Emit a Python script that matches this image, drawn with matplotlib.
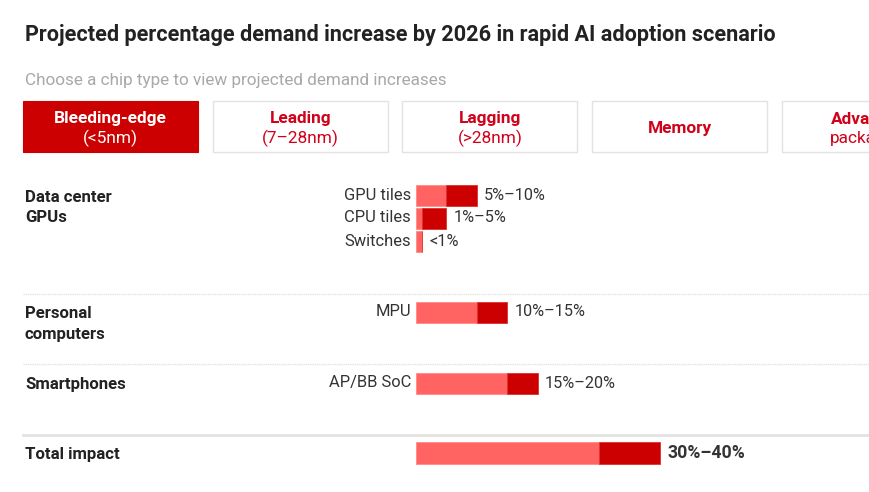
import matplotlib
matplotlib.use("Agg")
import matplotlib.pyplot as plt
from matplotlib.patches import Rectangle

# ---------------- data ----------------
title = "Projected percentage demand increase by 2026 in rapid AI adoption scenario"
subtitle = "Choose a chip type to view projected demand increases"
buttons = [("Bleeding-edge", "(<5nm)"), ("Leading", "(7–28nm)"), ("Lagging", "(>28nm)"),
           ("Memory", ""), ("Advanced", "packaging")]
active_button = 0

groups = ["Data center\nGPUs", "Personal\ncomputers", "Smartphones", "Total impact"]
items = ["GPU tiles", "CPU tiles", "Switches", "MPU", "AP/BB SoC", ""]
item_group = [0, 0, 0, 1, 2, 3]
low = [5, 1, 1, 10, 15, 30]      # lower bound of range (%)
high = [10, 5, 1, 15, 20, 40]    # upper bound of range (%)
labels = ["5%–10%", "1%–5%", "<1%", "10%–15%", "15%–20%", "30%–40%"]

LIGHT = "#FF6462"
DARK = "#CC0000"
BTN_RED = "#D0021B"

FONT = ["Roboto", "DejaVu Sans"]
plt.rcParams["font.family"] = FONT

W, H = 870, 492
fig = plt.figure(figsize=(W / 100, H / 100), dpi=100)
fig.patch.set_facecolor("white")

# overlay axes in pixel coordinates
ax0 = fig.add_axes([0, 0, 1, 1])
ax0.set_xlim(0, W)
ax0.set_ylim(H, 0)
ax0.axis("off")

ax0.text(25, 35, title, fontsize=15.6, fontweight="bold", color="#222222",
         va="center", ha="left")
ax0.text(25, 81, subtitle, fontsize=12.3, color="#A8A8A8", va="center", ha="left")

# buttons
bx0, bw, gap, by0, bh = 23, 175, 14.75, 101, 51
for i, (l1, l2) in enumerate(buttons):
    x = bx0 + i * (bw + gap)
    if i == active_button:
        ax0.add_patch(Rectangle((x, by0), bw, bh, facecolor=DARK, edgecolor=DARK, lw=0.8))
        c = "white"
    else:
        ax0.add_patch(Rectangle((x, by0), bw, bh, facecolor="white", edgecolor="#E2E2E2", lw=1.0))
        c = BTN_RED
    cx = x + bw / 2
    if l2:
        ax0.text(cx, by0 + 18, l1, fontsize=12.4, fontweight="bold", color=c, ha="center", va="center")
        ax0.text(cx, by0 + 37, l2, fontsize=12.4, color=c, ha="center", va="center")
    else:
        ax0.text(cx, by0 + bh / 2 + 2, l1, fontsize=12.4, fontweight="bold", color=c, ha="center", va="center")

# group labels
group_y = [207.5, 324, 384, 454]
for g, gy in zip(groups, group_y):
    ax0.text(25, gy, g, fontsize=12.1, fontweight="bold", color="#222222",
             ha="left", va="center", linespacing=1.42)

# separators
ax0.plot([23, W], [294, 294], color="#E4E4E4", lw=1.0, ls=(0, (1, 0.6)))
ax0.plot([23, W], [364, 364], color="#E4E4E4", lw=1.0, ls=(0, (1, 0.6)))
ax0.plot([23, W], [435, 435], color="#E2E2E2", lw=2.0)

# bar axes: x in percent, y in pixel rows
px_per_pct = 6.1
ax_left_px, ax_w_px = 416, 440
bar_ax = fig.add_axes([ax_left_px / W, 0, ax_w_px / W, 1])
bar_ax.set_xlim(0, ax_w_px / px_per_pct)
bar_ax.set_ylim(H, 0)
bar_ax.axis("off")
bar_ax.patch.set_alpha(0)

row_y = [195, 218, 241, 312, 383, 453]
row_h = [21, 21, 21, 21, 21, 22]
lefts = [0] * len(low)
dark_w = [h - l for l, h in zip(low, high)]
bar_ax.barh(row_y, low, height=row_h, left=lefts, color=LIGHT, edgecolor="#FF8A88", lw=0.6)
bar_ax.barh(row_y, dark_w, height=row_h, left=low, color=DARK, edgecolor="#E03030", lw=0.6)

for i in range(len(items)):
    y = row_y[i]
    if items[i]:
        bar_ax.text(-5 / px_per_pct, y, items[i], fontsize=11.9, color="#333333",
                    ha="right", va="center")
    bold = item_group[i] == 3
    bar_ax.text(high[i] + 7 / px_per_pct, y, labels[i], fontsize=12.7 if bold else 11.7,
                fontweight="bold" if bold else "normal", color="#333333", ha="left", va="center")

fig.savefig("out.png", dpi=100, facecolor="white")
